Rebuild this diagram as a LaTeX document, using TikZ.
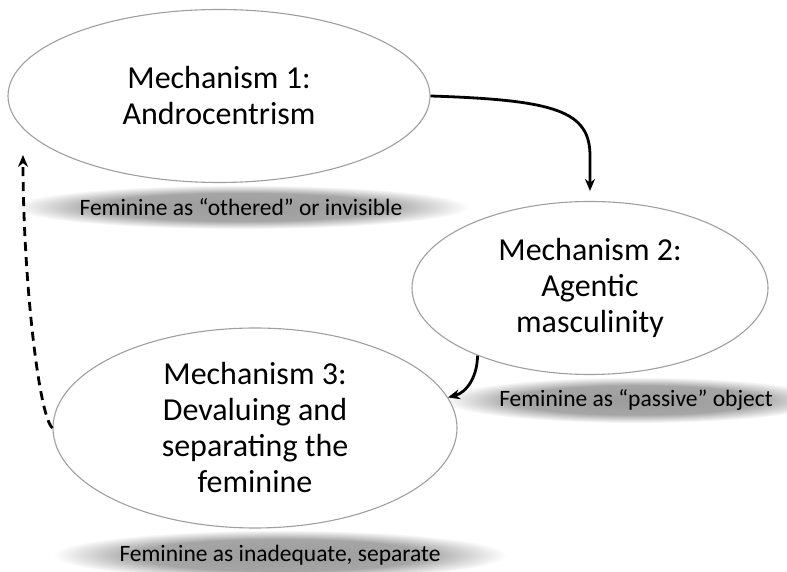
\documentclass[tikz,border=0pt]{standalone}
\usepackage{fontspec}
\setmainfont{Carlito}
\usepackage{tikz}
\usetikzlibrary{shapes.geometric,arrows.meta}

\pgfdeclareradialshading{haze}{\pgfpoint{0bp}{0bp}}{%
  color(0bp)=(gray!78); color(16bp)=(gray!70); color(25bp)=(white); color(50bp)=(white)}

\begin{document}
\begin{tikzpicture}[
  x=1pt, y=1pt,
  >=Stealth,
  mech/.style={
    ellipse, draw=gray!75, line width=1.1pt, fill=white, align=center,
    inner sep=0pt, font=\fontsize{32}{36}\selectfont
  },
  halo/.style={
    ellipse, shading=haze, inner sep=0pt, font=\fontsize{23.5}{26}\selectfont
  },
  arrow/.style={-{Stealth[length=12pt,width=10pt]}, line width=2.8pt},
  dasharrow/.style={arrow, dash pattern=on 9pt off 6pt}
]
\useasboundingbox (0,0) rectangle (787,572);

% grey bands with the side notes
\node (h1) [halo, minimum width=440, minimum height=44] at (241,365)
  {Feminine as “othered” or invisible};
\node (h2) [halo, minimum width=385, minimum height=46] at (636,172)
  {Feminine as “passive” object};
\node (h3) [halo, minimum width=425, minimum height=50] at (280,17)
  {Feminine as inadequate, separate};

% the three mechanisms
\node (m1) [mech, minimum width=422, minimum height=173] at (219,476)
  {Mechanism 1:\\Androcentrism};
\node (m2) [mech, minimum width=356, minimum height=173] at (590,284)
  {Mechanism 2:\\Agentic\\masculinity};
\node (m3) [mech, minimum width=404, minimum height=200] at (255,144)
  {Mechanism 3:\\Devaluing and\\separating the\\feminine};

\coordinate (back) at (23,417);

\draw[arrow] (m1.east) .. controls +(125,-4) and +(0,45) ..
  ([yshift=45pt]m2.north) -- ([yshift=10pt]m2.north);
\draw[arrow] (m2.211) to[out=-90,in=15] (m3.9);
\draw[dasharrow] (m3.west) .. controls +(-14,12) and +(0,-120) .. (back);
\end{tikzpicture}
\end{document}
